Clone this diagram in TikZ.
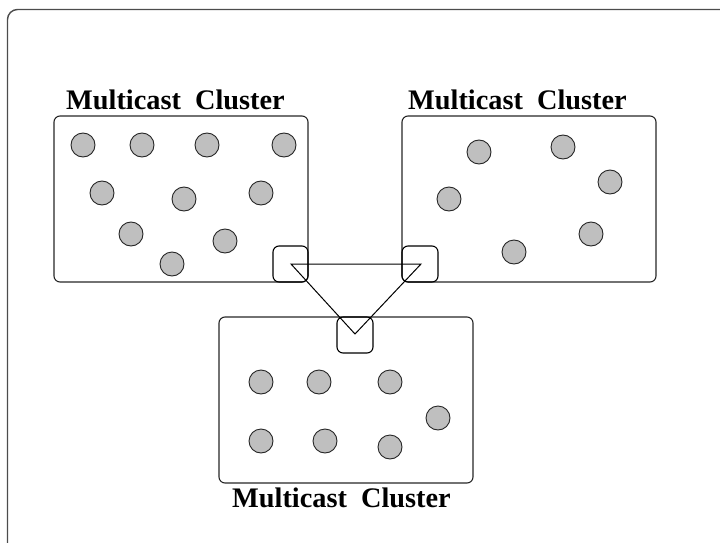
\documentclass[tikz,border=0pt]{standalone}
\usepackage{fontspec}
\setmainfont{Liberation Serif}
\begin{document}
\begin{tikzpicture}[x=1pt,y=-1pt,
  cluster/.style={draw=black!85,line width=1.1pt,rounded corners=6pt},
  gate/.style={draw=black,line width=1.1pt,rounded corners=6pt},
  host/.style={circle,draw=black!85,line width=0.9pt,fill=black!25,minimum size=24pt,inner sep=0pt},
  title/.style={font=\fontsize{28.3}{31}\selectfont\bfseries,anchor=base west,inner sep=0pt},
  link/.style={draw=black,line width=1pt}]
\useasboundingbox (0,0) rectangle (720,543);
% outer frame (only left and top edges visible)
\draw[draw=black!70,line width=1.4pt,rounded corners=10pt] (7.5,545) -- (7.5,9.5) -- (722,9.5);
% left cluster
\draw[cluster] (54,116) rectangle (308,282);
\node[title] (tl) at (66,110) {Multicast\ \ Cluster};
\foreach \p [count=\i] in {(83,145),(142,145),(207,145),(284,145),(102,193),(184,199),(261,193),(131,234),(225,241),(172,264)}
  \node[host] (l\i) at \p {};
% right cluster
\draw[cluster] (402,116) rectangle (656,282);
\node[title] (tr) at (408,110) {Multicast\ \ Cluster};
\foreach \p [count=\i] in {(479,152),(563,147),(610,182),(449,199),(591,234),(514,252)}
  \node[host] (r\i) at \p {};
% bottom cluster
\draw[cluster] (219,317) rectangle (473,483);
\node[title] (tb) at (232,507) {Multicast\ \ Cluster};
\foreach \p [count=\i] in {(261,382),(319,382),(390,382),(438,418),(261,441),(325,441),(390,447)}
  \node[host] (b\i) at \p {};
% gateways
\draw[gate] (273,246) rectangle (308,282);
\draw[gate] (402,246) rectangle (438,282);
\draw[gate] (337,317) rectangle (373,353);
\coordinate (ga) at (291,264);
\coordinate (gb) at (421,264);
\coordinate (gc) at (355,334);
\draw[link] (ga) -- (gb) -- (gc) -- cycle;
\end{tikzpicture}
\end{document}
